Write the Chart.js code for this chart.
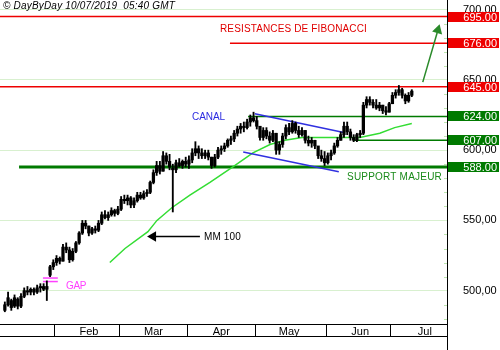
<!DOCTYPE html>
<html>
<head>
<meta charset="utf-8">
<script src="https://cdn.jsdelivr.net/npm/chart.js@4.4.1/dist/chart.umd.min.js"></script>
<style>
  html, body { margin: 0; padding: 0; background: #fff; }
  canvas { display: block; }
</style>
</head>
<body>
<canvas id="grafico" width="500" height="350"></canvas>
<script>
// one bar per trading day, index 0 = mid January 2019
const opens = [486,490,493,489,494,489,496,500,499,501,499,502,503,501,511,517,520,523,521,531,
  529,522,528,534,541,548,546,541,544,543,548,554,552,554,557,555,558,565,564,566,
  561,564,568,566,569,570,577,584,589,585,596,592,587,586,591,589,592,590,593,598,
  601,598,596,598,595,589,595,600,601,603,607,608,612,615,617,616,620,623,621,617,
  609,614,610,607,612,600,604,610,616,613,619,614,611,614,607,605,607,603,596,594,
  591,596,598,603,607,611,617,613,609,607,611,612,632,636,634,632,630,632,628,627,
  633,639,641,643,639,635,639];
const highs = [492,499,494,497,495,498,502,503,502,502,504,505,505,507,518,522,525,524,533,534,
  531,530,535,542,550,550,546,545,546,550,556,557,556,559,558,560,567,568,568,567,
  566,570,570,571,572,578,586,592,592,599,598,597,590,593,594,593,595,596,601,606,
  603,601,600,600,595,597,602,603,605,608,610,614,617,619,620,622,625,627,624,617,
  616,616,613,614,612,606,612,618,619,621,620,617,616,614,610,609,607,602,600,599,
  598,600,605,609,613,620,620,615,611,612,614,634,638,638,636,636,634,632,631,634,
  641,643,646,644,640,641,643];
const lows = [485,489,486,488,487,488,495,497,497,497,498,499,500,493,510,515,518,519,521,527,
  520,521,527,533,540,544,539,540,541,542,547,551,550,553,553,554,557,562,561,559,
  559,563,565,565,567,569,576,582,583,585,590,586,556,584,588,587,588,587,591,596,
  594,594,594,593,587,588,594,597,599,602,604,606,610,612,613,615,617,620,615,607,
  607,608,605,606,597,597,602,608,611,612,612,609,610,605,603,602,601,594,592,589,
  590,593,597,602,607,609,611,607,606,606,609,611,630,632,630,629,628,626,625,627,
  633,637,639,637,633,634,638];
const closes = [490,495,488,495,489,496,500,499,501,499,502,503,501,503,517,520,523,521,531,529,
  522,528,534,541,548,546,541,544,543,548,554,552,554,557,555,558,565,564,566,561,
  564,568,566,569,570,577,584,589,585,596,592,588,586,591,589,592,590,593,598,601,
  598,596,598,595,589,595,600,601,603,607,608,612,615,617,616,620,623,621,617,609,
  614,610,607,612,600,604,610,616,613,619,614,611,614,607,605,607,603,596,594,591,
  596,598,603,607,611,617,613,609,607,611,612,632,636,634,632,630,632,628,627,633,
  639,641,643,639,635,639,642];

// moyenne mobile 100 (MM 100), read at a few bar positions
const mmIdx = [32.5, 37.2, 44.3, 47.1, 51.7, 57.3, 63.5, 70.6, 76.8, 82.1, 86.7, 92, 97.6, 103.7, 109.9, 116.1, 120.7, 126];
const mmVal = [520, 530, 542, 550, 559, 568, 577, 588, 598, 604, 607, 609, 609, 609, 609, 612, 616, 619];

const months = ['Feb', 'Mar', 'Apr', 'May', 'Jun', 'Jul'];
const monthStarts = [15.5, 35.5, 56.5, 77.5, 99.5, 119.5];
const yTicks = [500, 550, 600, 650, 700];

const resistances = [695, 676, 645];
const resistFrom = [-1.5, 69.7, -1.5];
const supports = [624, 607, 588];
const supportFrom = [75.3, 107.8, 4.4];

// canal (blue channel) end points: [bar index, price]
const canalHaut = [[77.4, 625.8], [105.3, 612.3]];
const canalBas = [[73.8, 598.6], [103.4, 584.6]];
// gap lines
const gapLevels = [509, 506.5];
const gapRange = [11.8, 16.4];
// arrows
const flecheHausse = [[129.4, 648.4], [134.1, 685.4]];
const flecheMM = [[60.4, 538.5], [45.9, 538.5]];

const xMin = -1.5, xMax = 136.9;
const yMin = 476.3, yMax = 706.8;
const FONT = 'Liberation Sans';

function ligne(points, color, width, order) {
  return {
    type: 'line', data: points.map(p => ({ x: p[0], y: p[1] })),
    borderColor: color, borderWidth: width, pointRadius: 0, order: order
  };
}

function fleche(points, color, rot) {
  return {
    type: 'line', data: points.map(p => ({ x: p[0], y: p[1] })),
    borderColor: color, borderWidth: 1.5, order: 1,
    pointRadius: [0, 6], pointStyle: 'triangle', pointRotation: [0, rot],
    pointBackgroundColor: color, pointBorderColor: color, pointBorderWidth: 0
  };
}

const datasets = [];
resistances.forEach((v, i) => datasets.push(ligne([[resistFrom[i], v], [xMax, v]], '#ee0000', 1.5, 5)));
supports.forEach((v, i) => datasets.push(ligne([[supportFrom[i], v], [xMax, v]], '#007a00', i === 2 ? 3 : 1.5, 5)));
gapLevels.forEach(v => datasets.push(ligne([[gapRange[0], v], [gapRange[1], v]], '#ff40ff', 1.5, 5)));
datasets.push(ligne(canalHaut, '#3030e0', 1.5, 2));
datasets.push(ligne(canalBas, '#3030e0', 1.5, 2));
datasets.push(ligne(mmIdx.map((v, i) => [v, mmVal[i]]), '#33dd33', 1.5, 3));
datasets.push(fleche(flecheHausse, '#2a8a2a', 16));
datasets.push(fleche(flecheMM, '#000000', 270));
datasets.push({
  type: 'bar', data: highs.map((h, i) => ({ x: i, y: [lows[i], h] })),
  backgroundColor: '#000', barThickness: 1.2, grouped: false, order: 0
});
datasets.push({
  type: 'bar', data: opens.map((o, i) => ({ x: i, y: [o, closes[i]] })),
  backgroundColor: '#000', barThickness: 2.6, minBarLength: 1, grouped: false, order: 0
});

function fitText(ctx, text, x, y, width) {
  ctx.letterSpacing = '0px';
  const w = ctx.measureText(text).width;
  const sp = text.length > 1 ? (width - w) / text.length : 0;
  ctx.letterSpacing = sp + 'px';
  ctx.fillText(text, x, y);
  ctx.letterSpacing = '0px';
}

const notes = {
  id: 'notes',
  afterDraw(chart) {
    const { ctx, chartArea, scales: { x, y } } = chart;
    ctx.save();
    ctx.textBaseline = 'middle';
    ctx.textAlign = 'left';

    // header
    ctx.fillStyle = '#000';
    ctx.font = 'italic 10px "' + FONT + '"';
    fitText(ctx, '\u00a9 DayByDay 10/07/2019  05:40 GMT', 3, 6, 172);

    ctx.font = '10px "' + FONT + '"';
    ctx.fillStyle = '#e00000';
    fitText(ctx, 'RESISTANCES DE FIBONACCI', 220, 29.5, 147);
    ctx.fillStyle = '#2a2ae0';
    fitText(ctx, 'CANAL', 192, 117.5, 33);
    ctx.fillStyle = '#1a8a1a';
    fitText(ctx, 'SUPPORT MAJEUR', 347, 177, 95);
    ctx.fillStyle = '#000';
    fitText(ctx, 'MM 100', x.getPixelForValue(flecheMM[0][0]) + 4, y.getPixelForValue(flecheMM[0][1]) + 0.5, 37);
    ctx.fillStyle = '#ff40ff';
    fitText(ctx, 'GAP', 66, 286.5, 20);

    // minor ticks on the price axis
    ctx.strokeStyle = '#bde6b0';
    ctx.lineWidth = 1;
    for (let v = 480; v < 706; v += 10) {
      if (v % 50 === 0) continue;
      const py = Math.round(y.getPixelForValue(v)) + 0.5;
      ctx.beginPath();
      ctx.moveTo(chartArea.right - 3, py);
      ctx.lineTo(chartArea.right, py);
      ctx.stroke();
    }

    // level boxes
    ctx.font = '11px "' + FONT + '"';
    ctx.textAlign = 'right';
    const boxes = resistances.map(v => [v, '#ee0000']).concat(supports.map(v => [v, '#007a00']));
    boxes.forEach(b => {
      const py = y.getPixelForValue(b[0]);
      ctx.fillStyle = b[1];
      ctx.fillRect(chartArea.right + 1, Math.round(py) - 5, 51, 10);
      ctx.fillStyle = '#fff';
      ctx.fillText(b[0].toFixed(2), 497, Math.round(py) + 0.5);
    });

    // bottom band line and right border down to the bottom
    ctx.strokeStyle = '#000';
    ctx.lineWidth = 1;
    ctx.beginPath();
    ctx.moveTo(chartArea.left, x.top + 12.5);
    ctx.lineTo(chartArea.right, x.top + 12.5);
    ctx.moveTo(chartArea.right + 0.5, 0);
    ctx.lineTo(chartArea.right + 0.5, chart.height);
    ctx.stroke();
    ctx.restore();
  }
};

new Chart(document.getElementById('grafico'), {
  type: 'bar',
  data: { datasets: datasets },
  options: {
    responsive: false,
    animation: false,
    events: [],
    layout: { padding: 0, autoPadding: false },
    plugins: { legend: { display: false }, tooltip: { enabled: false } },
    scales: {
      x: {
        type: 'linear', min: xMin, max: xMax, offset: false,
        afterBuildTicks: s => { s.ticks = monthStarts.map(v => ({ value: v })); },
        afterFit: s => { s.height = 26; s.paddingLeft = 0; s.paddingRight = 0; },
        grid: { drawOnChartArea: false, drawTicks: true, tickLength: 12, color: '#000', offset: false },
        border: { display: true, color: '#000', width: 1 },
        ticks: {
          autoSkip: false, maxRotation: 0, padding: -11, labelOffset: 34, color: '#000',
          font: { family: FONT, size: 11 },
          callback: (v, i) => months[i]
        }
      },
      y: {
        position: 'right', min: yMin, max: yMax,
        afterBuildTicks: s => { s.ticks = yTicks.map(v => ({ value: v })); },
        afterFit: s => { s.width = 53; s.paddingTop = 0; s.paddingBottom = 0; },
        grid: { color: '#d8f0cf', drawTicks: false },
        border: { display: true, color: '#000', width: 1 },
        ticks: {
          crossAlign: 'near', padding: 16, color: '#000',
          font: { family: FONT, size: 11 },
          callback: v => v.toFixed(2).replace('.', ',')
        }
      }
    }
  },
  plugins: [notes]
});
</script>
</body>
</html>
